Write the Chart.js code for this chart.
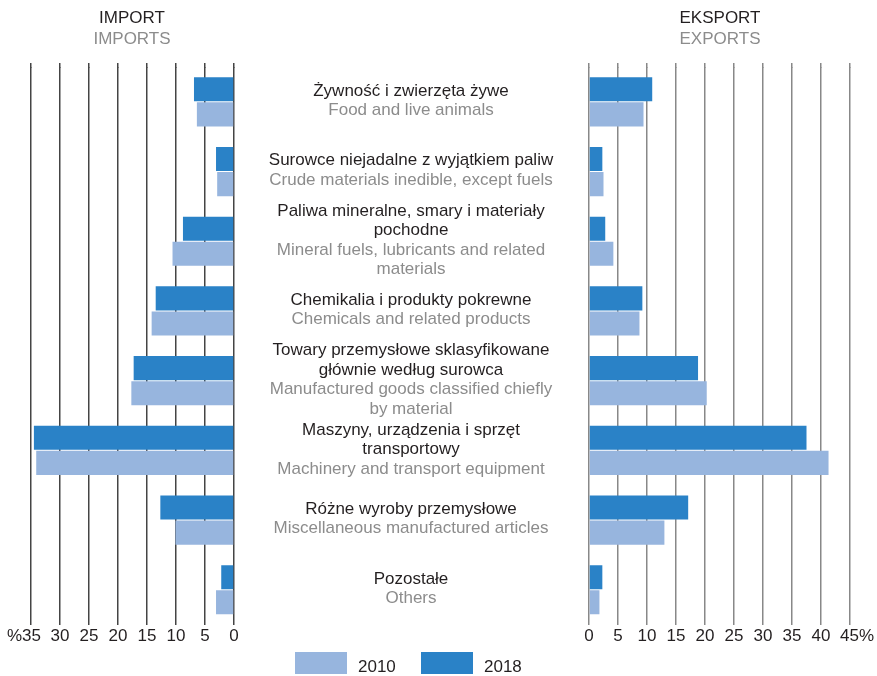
<!DOCTYPE html>
<html>
<head>
<meta charset="utf-8">
<script src="https://cdn.jsdelivr.net/npm/chart.js@4/dist/chart.umd.min.js"></script>
<style>
  body { margin: 0; background: #fff; font-family: "Liberation Sans", Arial, sans-serif; }
  #wrap { position: relative; width: 877px; height: 676px; overflow: hidden; }
  #wrap canvas { position: absolute; left: 0; top: 0; }
  .title { position: absolute; top: 7px; width: 200px; text-align: center; font-size: 17px; line-height: 21px; }
  .title .pl { color: #231f20; }
  .title .en { color: #8c8c8c; }
  .leg { position: absolute; top: 652px; font-size: 17px; color: #231f20; }
  .leg span.box { position: absolute; width: 52px; height: 22px; top: 0; }
  .leg span.txt { position: absolute; top: 5px; left: 63px; }
</style>
</head>
<body>
<div id="wrap">
  <canvas id="left" width="877" height="676"></canvas>
  <canvas id="right" width="920" height="676"></canvas>
  <div class="title" style="left:32px"><div class="pl">IMPORT</div><div class="en">IMPORTS</div></div>
  <div class="title" style="left:620px"><div class="pl">EKSPORT</div><div class="en">EXPORTS</div></div>
  <div id="legend"></div>
</div>
<script>
// categories (Polish / English lines)
const categoriesPl = [
    ['Żywność i zwierzęta żywe'],
    ['Surowce niejadalne z wyjątkiem paliw'],
    ['Paliwa mineralne, smary i materiały', 'pochodne'],
    ['Chemikalia i produkty pokrewne'],
    ['Towary przemysłowe sklasyfikowane', 'głównie według surowca'],
    ['Maszyny, urządzenia i sprzęt', 'transportowy'],
    ['Różne wyroby przemysłowe'],
    ['Pozostałe'],
];
const categoriesEn = [
    ['Food and live animals'],
    ['Crude materials inedible, except fuels'],
    ['Mineral fuels, lubricants and related', 'materials'],
    ['Chemicals and related products'],
    ['Manufactured goods classified chiefly', 'by material'],
    ['Machinery and transport equipment'],
    ['Miscellaneous manufactured articles'],
    ['Others'],
];
const years = ['2010', '2018'];
const import2010 = [6.4, 2.9, 10.6, 14.2, 17.7, 34.1, 10.1, 3.1];
const import2018 = [6.9, 3.1, 8.8, 13.5, 17.3, 34.5, 12.7, 2.2];
const export2010 = [9.4, 2.5, 4.2, 8.7, 20.3, 41.3, 13.0, 1.8];
const export2018 = [10.9, 2.3, 2.8, 9.2, 18.8, 37.5, 17.1, 2.3];
const importMax = 35;
const exportMax = 45;

const color2010 = '#97b5de';
const color2018 = '#2a82c7';
const darkText = '#231f20';
const grayText = '#8c8c8c';
const font = { family: '"Liberation Sans", Arial, sans-serif', size: 17 };

const labels = categoriesEn.map((l) => l.join(' '));

// center labels drawn next to each category band
const centerLabels = {
    id: 'centerLabels',
    afterDraw(chart) {
        const ctx = chart.ctx;
        const y = chart.scales.y;
        const lh = 19.5;
        ctx.save();
        ctx.font = `17px ${font.family}`;
        ctx.textAlign = 'center';
        ctx.textBaseline = 'middle';
        categoriesPl.forEach((pl, i) => {
            const lines = pl.map((t) => [t, darkText]).concat(categoriesEn[i].map((t) => [t, grayText]));
            const cy = y.getPixelForValue(i) - 1;
            const top = cy - (lines.length - 1) * lh / 2;
            lines.forEach(([t, c], k) => {
                ctx.fillStyle = c;
                ctx.fillText(t, 411, top + k * lh);
            });
        });
        ctx.restore();
    },
};

// grid lines reach a little above the plot area
const gridTop = {
    id: 'gridTop',
    beforeDatasetsDraw(chart, args, opts) {
        const ctx = chart.ctx;
        const x = chart.scales.x;
        ctx.save();
        ctx.strokeStyle = opts.color;
        ctx.lineWidth = 1.5;
        x.ticks.forEach((t) => {
            const px = Math.round(x.getPixelForValue(t.value) - 0.75) + 0.75;
            ctx.beginPath();
            ctx.moveTo(px, 63);
            ctx.lineTo(px, chart.chartArea.top + 1);
            ctx.stroke();
        });
        ctx.restore();
    },
};

function makeOptions(max, reverse, pad, gridColor, tickCb) {
    return {
        indexAxis: 'y',
        responsive: false,
        animation: false,
        layout: { padding: pad },
        plugins: { legend: { display: false }, tooltip: { enabled: false }, gridTop: { color: gridColor } },
        scales: {
            x: {
                min: 0,
                max: max,
                reverse: reverse,
                ticks: { stepSize: 5, autoSkip: false, color: darkText, font: font, padding: 2, maxRotation: 0, callback: tickCb },
                grid: { color: gridColor, lineWidth: 1.5, drawTicks: false },
                border: { display: false },
            },
            y: { display: false },
        },
    };
}

function makeData(d2018, d2010) {
    return {
        labels: labels,
        datasets: [
            { label: '2018', data: d2018, backgroundColor: color2018, categoryPercentage: 0.72, barPercentage: 0.96 },
            { label: '2010', data: d2010, backgroundColor: color2010, categoryPercentage: 0.72, barPercentage: 0.96 },
        ],
    };
}

new Chart(document.getElementById('left'), {
    type: 'bar',
    data: makeData(import2018, import2010),
    options: makeOptions(importMax, true, { left: 31, right: 643, top: 67, bottom: 27 }, '#444',
        (v) => (v === importMax ? '%' + v + '   ' : v)),
    plugins: [centerLabels, gridTop],
});

new Chart(document.getElementById('right'), {
    type: 'bar',
    data: makeData(export2018, export2010),
    options: makeOptions(exportMax, false, { left: 589, right: 70, top: 67, bottom: 27 }, '#888',
        (v) => (v === exportMax ? '   ' + v + '%' : v)),
    plugins: [gridTop],
});

// legend
const legend = document.getElementById('legend');
const legendColors = { '2010': color2010, '2018': color2018 };
years.forEach((yr, i) => {
    const d = document.createElement('div');
    d.className = 'leg';
    d.style.left = (295 + i * 126) + 'px';
    d.innerHTML = `<span class="box" style="background:${legendColors[yr]}"></span><span class="txt">${yr}</span>`;
    legend.appendChild(d);
});
</script>
</body>
</html>
